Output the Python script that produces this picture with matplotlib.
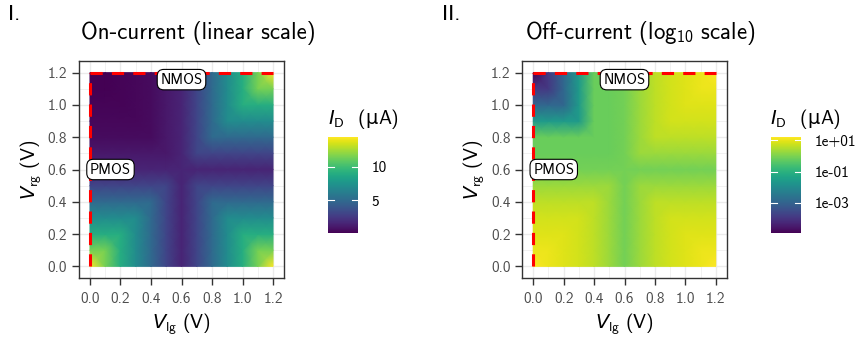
import numpy as np
import matplotlib
matplotlib.use("Agg")
import matplotlib.pyplot as plt
from matplotlib.colors import LogNorm, Normalize

plt.rcParams['font.family'] = ['cmss10', 'DejaVu Sans']
plt.rcParams['mathtext.fontset'] = 'custom'
plt.rcParams['mathtext.rm'] = 'cmss10'
plt.rcParams['mathtext.it'] = 'DejaVu Sans:italic'
plt.rcParams['axes.unicode_minus'] = False

# ---------------- data ----------------
v_lg = [0.0, 0.1, 0.2, 0.3, 0.4, 0.5, 0.6, 0.7, 0.8, 0.9, 1.0, 1.1, 1.2]
v_rg = [0.0, 0.1, 0.2, 0.3, 0.4, 0.5, 0.6, 0.7, 0.8, 0.9, 1.0, 1.1, 1.2]

# On-current, uA ; rows = V_rg (0 -> 1.2), cols = V_lg (0 -> 1.2)
on_current = [
    [14.5, 11.5, 9.0, 7.0, 5.0, 3.0, 1.5, 3.0, 5.0, 7.0, 9.0, 11.5, 14.5],
    [11.5, 11.5, 9.0, 7.0, 5.0, 3.0, 1.5, 3.0, 5.0, 7.0, 9.0, 11.5, 11.5],
    [9.0, 9.0, 9.0, 7.0, 5.0, 3.0, 1.5, 3.0, 5.0, 7.0, 9.0, 9.0, 9.0],
    [7.0, 7.0, 7.0, 7.0, 5.0, 3.0, 1.5, 3.0, 5.0, 7.0, 7.0, 7.0, 7.0],
    [5.0, 5.0, 5.0, 5.0, 5.0, 3.0, 1.5, 3.0, 5.0, 5.0, 5.0, 5.0, 5.0],
    [3.0, 3.0, 3.0, 3.0, 3.0, 3.0, 1.5, 3.0, 3.0, 3.0, 3.0, 3.0, 3.0],
    [1.5, 1.5, 1.5, 1.5, 1.5, 1.5, 1.5, 1.5, 1.5, 1.5, 1.5, 1.5, 1.5],
    [1.0, 1.0, 1.0, 1.0, 1.0, 1.0, 1.5, 3.0, 3.0, 3.0, 3.0, 3.0, 3.0],
    [0.5, 0.5, 0.5, 0.5, 0.5, 1.0, 1.5, 3.0, 5.0, 5.0, 5.0, 5.0, 5.0],
    [0.3, 0.3, 0.3, 0.3, 0.5, 1.0, 1.5, 3.0, 5.0, 7.0, 7.0, 7.0, 7.0],
    [0.2, 0.2, 0.2, 0.3, 0.5, 1.0, 1.5, 3.0, 5.0, 7.0, 9.0, 9.0, 9.0],
    [0.1, 0.1, 0.2, 0.3, 0.5, 1.0, 1.5, 3.0, 5.0, 7.0, 9.0, 11.5, 11.5],
    [0.05, 0.1, 0.2, 0.3, 0.5, 1.0, 1.5, 3.0, 5.0, 7.0, 9.0, 11.5, 14.5],
]

# Off-current, log10(uA) ; same layout
off_log10 = [
    [1.21, 1.03, 0.90, 0.78, 0.60, 0.29, -0.10, 0.29, 0.60, 0.78, 0.90, 1.03, 1.21],
    [1.03, 1.03, 0.90, 0.78, 0.60, 0.29, -0.10, 0.29, 0.60, 0.78, 0.90, 1.03, 1.03],
    [0.90, 0.90, 0.90, 0.78, 0.60, 0.29, -0.10, 0.29, 0.60, 0.78, 0.90, 0.90, 0.90],
    [0.78, 0.78, 0.78, 0.78, 0.60, 0.29, -0.10, 0.29, 0.60, 0.78, 0.78, 0.78, 0.78],
    [0.60, 0.60, 0.60, 0.60, 0.60, 0.29, -0.10, 0.29, 0.60, 0.60, 0.60, 0.60, 0.60],
    [0.29, 0.29, 0.29, 0.29, 0.29, 0.29, -0.10, 0.29, 0.29, 0.29, 0.29, 0.29, 0.29],
    [-0.10, -0.10, -0.10, -0.10, -0.10, -0.10, -0.10, -0.10, -0.10, -0.10, -0.10, -0.10, -0.10],
    [-0.20, -0.20, -0.20, -0.20, -0.20, -0.20, -0.10, 0.29, 0.29, 0.29, 0.29, 0.29, 0.29],
    [-0.20, -0.20, -0.20, -0.20, -0.20, -0.20, -0.10, 0.29, 0.60, 0.60, 0.60, 0.60, 0.60],
    [-1.6, -1.6, -1.6, -1.6, -0.20, -0.20, -0.10, 0.29, 0.60, 0.78, 0.78, 0.78, 0.78],
    [-2.9, -2.9, -2.9, -1.6, -0.20, -0.20, -0.10, 0.29, 0.60, 0.78, 0.90, 0.90, 0.90],
    [-3.9, -3.9, -2.9, -1.6, -0.20, -0.20, -0.10, 0.29, 0.60, 0.78, 0.90, 1.03, 1.03],
    [-4.93, -3.9, -2.9, -1.6, -0.20, -0.20, -0.10, 0.29, 0.60, 0.78, 0.90, 1.03, 1.21],
]

axis_ticks = [0.0, 0.2, 0.4, 0.6, 0.8, 1.0, 1.2]
axis_ticklabels = ["0.0", "0.2", "0.4", "0.6", "0.8", "1.0", "1.2"]
on_cbar_ticks = [5, 10]
on_cbar_labels = ["5", "10"]
off_cbar_ticks = [1e-3, 1e-1, 1e1]
off_cbar_labels = ["1e-03", "1e-01", "1e+01"]

pmos_line_x = [0.0, 0.0]
pmos_line_y = [0.0, 1.2]
nmos_line_x = [0.0, 1.2]
nmos_line_y = [1.2, 1.2]
nmos_label_pos = (0.6, 1.2)
pmos_label_pos = (0.0, 0.6)

panel_titles = ["On-current (linear scale)", "Off-current (log$_{10}$ scale)"]
panel_tags = ["I.", "II."]

# ---------------- figure ----------------
W, H = 857, 337
fig = plt.figure(figsize=(W / 100, H / 100), dpi=100)
renderer = fig.canvas.get_renderer()


def fr(l, t, r, b):
    return [l / W, 1 - b / H, (r - l) / W, (b - t) / H]


ax_rects = [fr(79, 61, 284, 278), fr(522.3, 61, 726.7, 278)]
cax_rects = [fr(328.3, 137, 357.7, 233), fr(771, 137, 800.7, 233)]
tag_x = [8, 442]
title_cx = [198, 640]
cbar_title_x = [328, 770]

X, Y = np.meshgrid(v_lg, v_rg)
datasets = [np.array(on_current), 10 ** np.array(off_log10)]
norms = [Normalize(vmin=np.min(datasets[0]), vmax=np.max(datasets[0])),
         LogNorm(vmin=np.min(datasets[1]), vmax=np.max(datasets[1]))]
cticks = [on_cbar_ticks, off_cbar_ticks]
clabels = [on_cbar_labels, off_cbar_labels]

lab_col = '#4D4D4D'
for k in range(2):
    ax = fig.add_axes(ax_rects[k])
    ax.set_xlim(-0.072, 1.272)
    ax.set_ylim(-0.072, 1.272)
    ax.set_xticks(axis_ticks)
    ax.set_xticklabels(axis_ticklabels)
    ax.set_yticks(axis_ticks)
    ax.set_yticklabels(axis_ticklabels)
    ax.set_xticks(np.arange(0.1, 1.21, 0.2), minor=True)
    ax.set_yticks(np.arange(0.1, 1.21, 0.2), minor=True)
    ax.grid(True, which='major', color='#EBEBEB', lw=1.0, zorder=0)
    ax.grid(True, which='minor', color='#EBEBEB', lw=0.5, zorder=0)
    ax.tick_params(which='major', direction='out', length=5, width=1.0,
                   color='#333333', labelcolor=lab_col, labelsize=11, pad=3.5)
    ax.tick_params(axis='x', which='major', pad=5)
    ax.tick_params(which='minor', length=0)
    for s in ax.spines.values():
        s.set_color('#333333')
        s.set_linewidth(1.0)
    ax.set_axisbelow(True)

    m = ax.pcolormesh(X, Y, datasets[k], shading='gouraud', cmap='viridis',
                      norm=norms[k], zorder=1, rasterized=True)

    ax.plot(pmos_line_x, pmos_line_y, color='#FF0000', lw=2.2,
            dashes=(4, 3), zorder=3, dash_capstyle='butt')
    ax.plot(nmos_line_x, nmos_line_y, color='#FF0000', lw=2.2,
            dashes=(4, 3), zorder=3, dash_capstyle='butt')

    bbox = dict(boxstyle='round,pad=0.22,rounding_size=0.45', fc='white',
                ec='black', lw=0.8)
    ax.text(nmos_label_pos[0], nmos_label_pos[1], 'NMOS', ha='center', va='top',
            fontsize=10.5, bbox=bbox, zorder=4)
    ax.text(pmos_label_pos[0], pmos_label_pos[1], 'PMOS', ha='left', va='center',
            fontsize=10.5, bbox=bbox, zorder=4)

    ax.set_xlabel(r'$V_{\mathrm{lg}}$ (V)', fontsize=14, labelpad=4)
    ax.set_ylabel(r'$V_{\mathrm{rg}}$ (V)', fontsize=14, labelpad=3)

    fig.text(title_cx[k] / W, 1 - 33 / H, panel_titles[k], ha='center',
             va='center', fontsize=16.5)
    fig.text(tag_x[k] / W, 1 - 15 / H, panel_tags[k], ha='left',
             va='center', fontsize=16)

    cax = fig.add_axes(cax_rects[k])
    cb = fig.colorbar(m, cax=cax)
    cb.outline.set_visible(False)
    cb.set_ticks(cticks[k])
    cb.set_ticklabels(clabels[k])
    cb.minorticks_off()
    cax.tick_params(length=0, pad=10, labelsize=11, labelcolor='black')
    for v in cticks[k]:
        cax.axhline(v, xmin=0, xmax=0.2, color='white', lw=0.8)
        cax.axhline(v, xmin=0.8, xmax=1.0, color='white', lw=0.8)

    # legend title: I_D (µA), µ taken from DejaVu Sans
    xb = cbar_title_x[k] / W
    yb = 1 - 124 / H
    pieces = [(r'$I_{\mathrm{D}}$  (', ['cmss10']), ('µ', ['DejaVu Sans']),
              ('A)', ['cmss10'])]
    for txt, fam in pieces:
        t = fig.text(xb, yb, txt, ha='left', va='baseline', fontsize=14,
                     family=fam)
        bb = t.get_window_extent(renderer)
        xb = bb.x1 / W

fig.savefig('out.png', dpi=100)
